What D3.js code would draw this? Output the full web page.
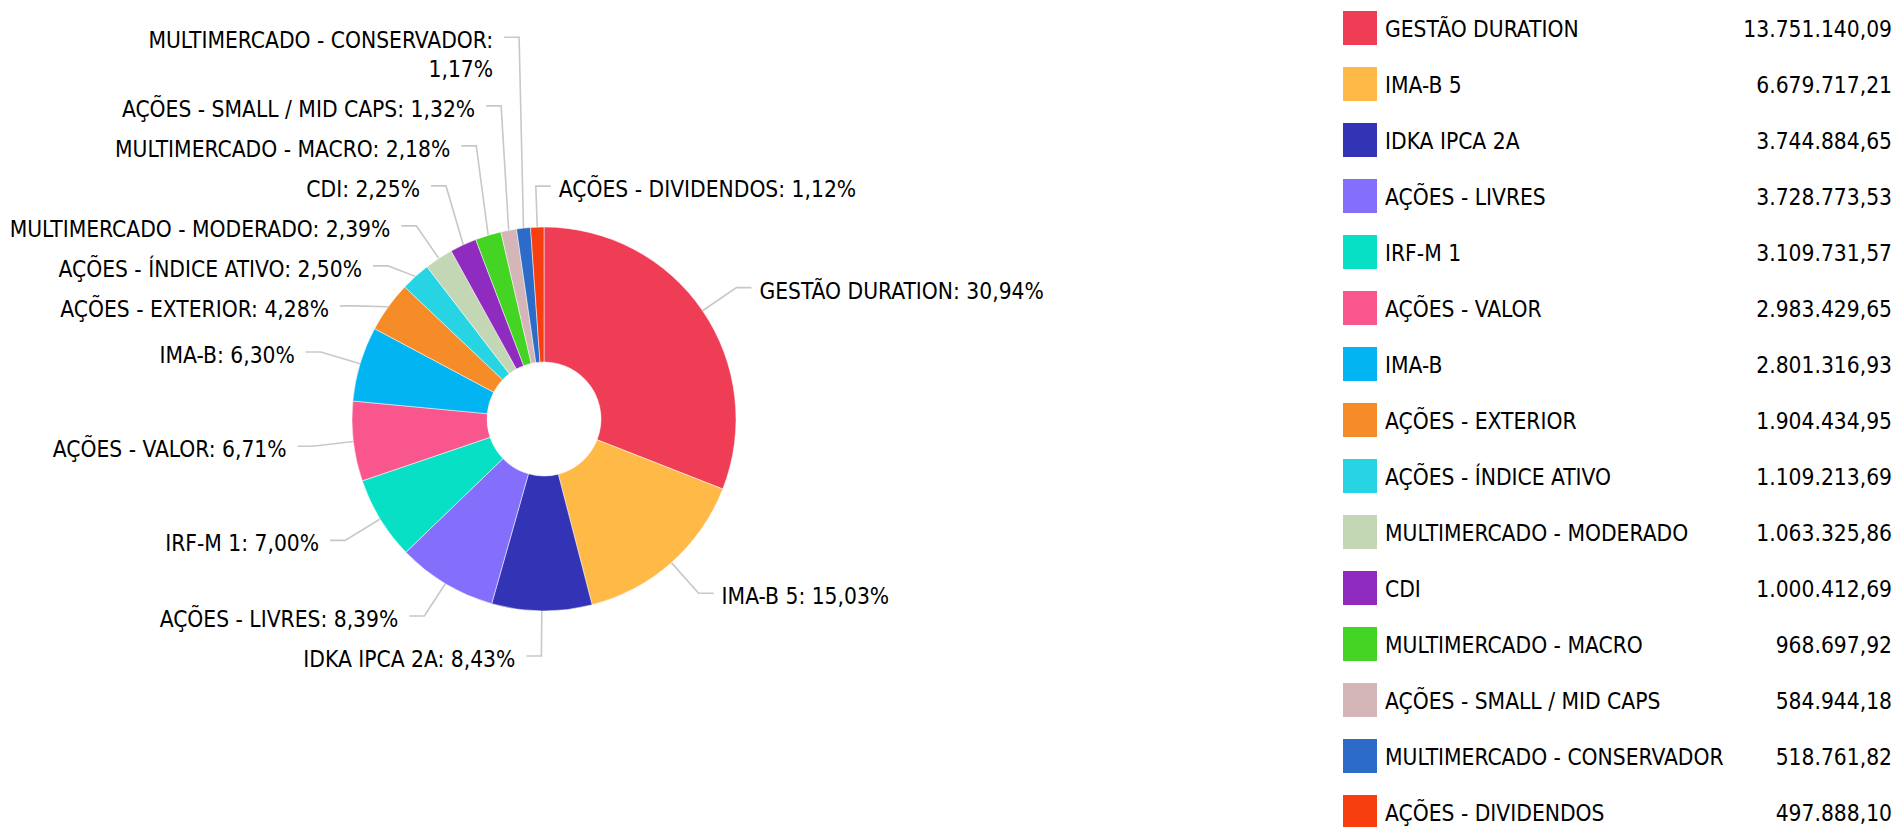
<!DOCTYPE html>
<html><head><meta charset="utf-8">
<script src="https://cdn.jsdelivr.net/npm/d3@7"></script>
<style>
html,body{margin:0;padding:0;background:#fff;overflow:hidden}
svg{display:block}
text{font-family:"DejaVu Sans Condensed","DejaVu Sans",sans-serif;font-stretch:condensed;font-size:22.6px;fill:#000}
</style></head><body>
<svg id="chart" width="1899" height="827"></svg>
<script>
const categories = ["GESTÃO DURATION","IMA-B 5","IDKA IPCA 2A","AÇÕES - LIVRES","IRF-M 1","AÇÕES - VALOR","IMA-B","AÇÕES - EXTERIOR","AÇÕES - ÍNDICE ATIVO","MULTIMERCADO - MODERADO","CDI","MULTIMERCADO - MACRO","AÇÕES - SMALL / MID CAPS","MULTIMERCADO - CONSERVADOR","AÇÕES - DIVIDENDOS"];
const values = [13751140.09, 6679717.21, 3744884.65, 3728773.53, 3109731.57, 2983429.65, 2801316.93, 1904434.95, 1109213.69, 1063325.86, 1000412.69, 968697.92, 584944.18, 518761.82, 497888.10];
const colors = ["#EF3D55","#FFB946","#3333B5","#836FFB","#08E0C6","#F8568D","#02B4F2","#F68C27","#26D4E3","#C4D7B5","#8F2CBF","#44D424","#D4B5B8","#2C6CC8","#F73E0E"];

const W = 1899, H = 827;
const cx = 544, cy = 419, R = 192, R0 = 57, RK = 233;
const lineH = 28.6, padA = 7.4, padB = 11.4, topBound = 16, maxLabelW = 400;
const tickLen = 15;

const svg = d3.select("#chart");
const locale = d3.formatLocale({decimal: ",", thousands: ".", grouping: [3], currency: ["R$", ""]});
const fmtVal = locale.format(",.2f"), fmtPct = locale.format(".2f");
const total = d3.sum(values);
const data = categories.map((c, i) => ({name: c, value: values[i], color: colors[i]}));

const pie = d3.pie().value(d => d.value).sort(null);
const arcs = pie(data);
const arc = d3.arc().innerRadius(R0).outerRadius(R);

const gLines = svg.append("g").attr("transform", `translate(${cx},${cy})`);
const gPie = svg.append("g").attr("transform", `translate(${cx},${cy})`);
const gLabels = svg.append("g").attr("transform", `translate(${cx},${cy})`);

gPie.selectAll("path").data(arcs).join("path")
  .attr("d", arc).attr("fill", d => d.data.color)
  .attr("stroke", "#fff").attr("stroke-width", 0.5);

// measure helper
const meas = svg.append("text").attr("x", -1000).attr("y", -1000);
function width(s) { meas.text(s); return meas.node().getComputedTextLength(); }
function wrap(s) {
  if (width(s) <= maxLabelW) return [s];
  const words = s.split(" "); const lines = []; let cur = "";
  words.forEach(w => {
    const t = cur ? cur + " " + w : w;
    if (width(t) > maxLabelW && cur) { lines.push(cur); cur = w; } else cur = t;
  });
  if (cur) lines.push(cur);
  return lines;
}

const labels = arcs.map(d => {
  const a = (d.startAngle + d.endAngle) / 2;
  const nx = RK * Math.sin(a), ny = -RK * Math.cos(a);
  const right = Math.sin(a) > 0 || (Math.cos(a) > 0 && nx > -12);
  const text = `${d.data.name}: ${fmtPct(d.value / total * 100)}%`;
  const lines = wrap(text);
  return {a, nx, ny, y: ny, right, lines, sx: R * Math.sin(a), sy: -R * Math.cos(a)};
});
meas.remove();

[true, false].forEach(side => {
  const L = labels.filter(l => l.right === side).sort((p, q) => p.ny - q.ny);
  // pass A: bottom to top, push up
  for (let i = L.length - 2; i >= 0; i--) {
    const hA = L[i].lines.length * lineH + padA;
    L[i].y = Math.min(L[i].y, L[i + 1].y - hA);
  }
  // pass B: top to bottom, push down with top bound
  const minY = topBound - cy + padB / 2 + lineH / 2;
  for (let i = 0; i < L.length; i++) {
    if (i === 0) L[i].y = Math.max(L[i].y, minY);
    else {
      const hB = L[i - 1].lines.length * lineH + padB;
      L[i].y = Math.max(L[i].y, L[i - 1].y + hB);
    }
  }
});

gLines.selectAll("polyline").data(labels).join("polyline")
  .attr("points", l => [[l.sx, l.sy], [l.nx, l.y], [l.nx + (l.right ? tickLen : -tickLen), l.y]].join(" "))
  .attr("fill", "none").attr("stroke", "#c8c8c8").attr("stroke-width", 1.6);

const lt = gLabels.selectAll("text").data(labels).join("text")
  .attr("text-anchor", l => l.right ? "start" : "end")
  .attr("x", l => l.nx + (l.right ? tickLen + 8 : -tickLen - 11))
  .attr("y", l => l.y + 11);
lt.each(function(l) {
  const t = d3.select(this);
  l.lines.forEach((s, i) => {
    t.append("tspan").attr("x", l.nx + (l.right ? tickLen + 8 : -tickLen - 11))
      .attr("dy", i === 0 ? 0 : lineH).text(s);
  });
});

// legend
const legY = d3.scaleLinear().domain([0, 1]).range([11, 67]);
const leg = svg.append("g").selectAll("g").data(data).join("g")
  .attr("transform", (d, i) => `translate(0,${legY(i)})`);
leg.append("rect").attr("x", 1343).attr("y", 0).attr("width", 34).attr("height", 34).attr("fill", d => d.color);
leg.append("text").attr("x", 1385).attr("y", 25.7).text(d => d.name);
leg.append("text").attr("x", 1892).attr("y", 25.7).attr("text-anchor", "end").text(d => fmtVal(d.value));
</script>
</body></html>
